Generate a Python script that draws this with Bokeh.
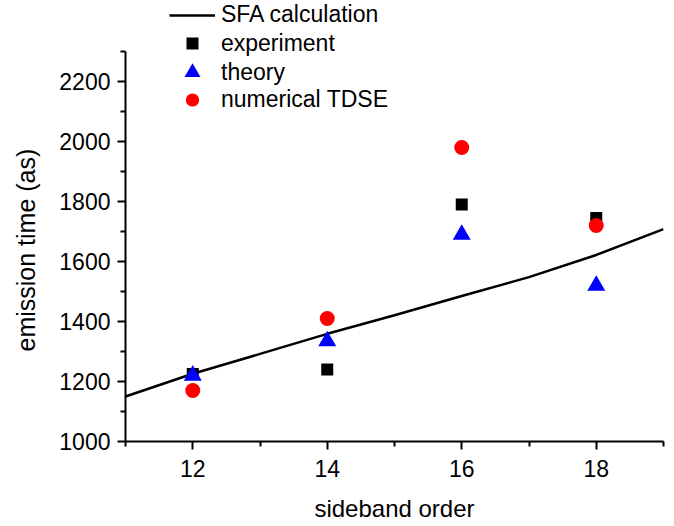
from bokeh.plotting import figure
from bokeh.models import Range1d, FixedTicker, Legend, LegendItem, Title
from bokeh.embed import file_html
from bokeh.resources import INLINE

# data
orders = [12, 14, 16, 18]
experiment = [1225, 1240, 1790, 1745]
theory = [1220, 1335, 1690, 1520]
tdse = [1170, 1410, 1980, 1720]
sfa_x = [11, 12, 13, 14, 15, 16, 17, 18, 19]
sfa_y = [1150, 1226, 1292, 1359, 1421, 1485, 1548, 1622, 1708]

x_major = [12, 14, 16, 18]
x_minor = [11, 13, 15, 17, 19]
y_major = [1000, 1200, 1400, 1600, 1800, 2000, 2200]
y_minor = [1100, 1300, 1500, 1700, 1900, 2100, 2300]

FONT = "Liberation Sans"

p = figure(width=672, height=524, output_backend="svg", toolbar_location=None,
           x_range=Range1d(11, 19), y_range=Range1d(1000, 1000 + 446 / 0.30333),
           min_border_left=125, min_border_right=9, min_border_top=0, min_border_bottom=78)
p.outline_line_color = None
p.grid.visible = False
p.background_fill_color = "white"

l_sfa = p.line(sfa_x, sfa_y, line_color="black", line_width=2.5)
r_exp = p.scatter(orders, experiment, marker="square", size=12, fill_color="black", line_color=None)
r_th = p.scatter(orders, theory, marker="triangle", size=18, fill_color="blue", line_color=None)
r_td = p.scatter(orders, tdse, marker="circle", size=15, fill_color="red", line_color=None)

for ax in (p.xaxis[0], p.yaxis[0]):
    ax.axis_line_width = 2
    ax.axis_line_color = "black"
    ax.major_tick_line_width = 2
    ax.minor_tick_line_width = 2
    ax.major_tick_in = 0
    ax.major_tick_out = 8
    ax.minor_tick_in = 0
    ax.minor_tick_out = 5
    ax.major_label_text_font = FONT
    ax.major_label_text_font_size = "23px"
    ax.major_label_text_color = "black"
    ax.axis_label_text_font = FONT
    ax.axis_label_text_font_style = "normal"
    ax.axis_label_text_color = "black"

p.xaxis.axis_label_text_font_size = "24px"
p.xaxis.ticker = FixedTicker(ticks=x_major, minor_ticks=x_minor)
p.yaxis.ticker = FixedTicker(ticks=y_major, minor_ticks=y_minor)
p.yaxis.bounds = (1000, 2300)
p.xaxis.axis_label = "sideband order"
p.xaxis.major_label_standoff = 10
p.yaxis.major_label_standoff = 7
p.xaxis.axis_label_standoff = 15
# blank spacer label so the real y title sits further out
p.yaxis.axis_label = " "
p.yaxis.axis_label_text_font_size = "10px"
p.yaxis.axis_label_standoff = 0

ytitle = Title(text="emission time (as)", align="left", offset=90, standoff=5,
               text_font=FONT, text_font_size="25px", text_font_style="normal",
               text_color="black")
p.add_layout(ytitle, "left")


def one_legend(label, renderer, glyph_h, y_loc):
    lg = Legend(items=[LegendItem(label=label, renderers=[renderer])], location=(44, y_loc))
    lg.background_fill_alpha = 0
    lg.border_line_color = None
    lg.padding = 0
    lg.margin = 0
    lg.spacing = 0
    lg.glyph_width = 46
    lg.glyph_height = glyph_h
    lg.label_height = 20
    lg.label_standoff = 6
    lg.label_text_font = FONT
    lg.label_text_font_size = "23px"
    lg.label_text_color = "black"
    p.add_layout(lg, "center")


one_legend("SFA calculation", l_sfa, 26, 413)
one_legend("experiment", r_exp, 30, 383)
one_legend("theory", r_th, 40, 349)
one_legend("numerical TDSE", r_td, 33, 325)

open("out.html", "w").write(file_html(p, INLINE))
